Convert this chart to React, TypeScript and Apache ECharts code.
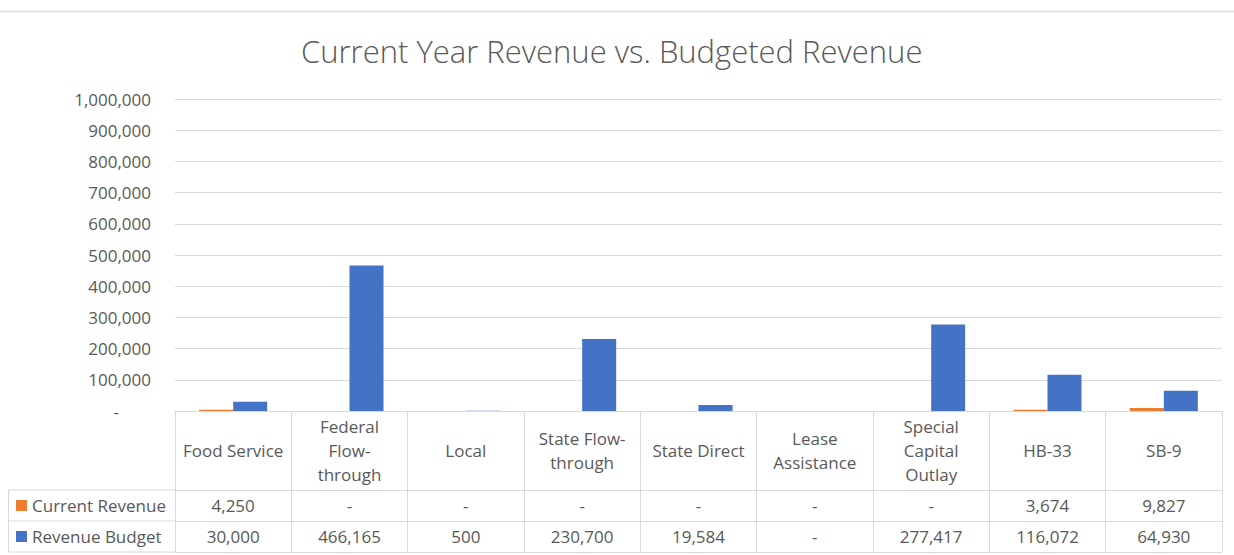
import React, { useEffect, useRef } from "react";
import * as echarts from "echarts";

const categories = [
  "Food Service",
  "Federal\nFlow-\nthrough",
  "Local",
  "State Flow-\nthrough",
  "State Direct",
  "Lease\nAssistance",
  "Special\nCapital\nOutlay",
  "HB-33",
  "SB-9",
];
const currentRevenue = [4250, 0, 0, 0, 0, 0, 0, 3674, 9827];
const revenueBudget = [30000, 466165, 500, 230700, 19584, 0, 277417, 116072, 64930];
const seriesNames = ["Current Revenue", "Revenue Budget"];

const FONT = "'Open Sans', 'Noto Sans', sans-serif";
const TEXT = "#595959";
const LINE = "#d9d9d9";
const ORANGE = "#ED7D31";
const BLUE = "#4472C4";

const fmt = (v: number) => (v === 0 ? "-" : v.toLocaleString("en-US"));

export default function App() {
  const ref = useRef<HTMLDivElement>(null);
  useEffect(() => {
    if (!ref.current) return;
    const chart = echarts.init(ref.current, undefined, { renderer: "svg" });
    const gridLeft = 175;
    const gridRight = 12;
    const gridTop = 99;
    const gridBottom = 144;
    const axisY = 555 - gridBottom;
    const headerH = 79;
    const rowH = 31;
    const rowAxis = (data: string[], offset: number, height: number) => ({
      type: "category",
      data,
      position: "bottom",
      offset,
      gridIndex: 0,
      axisLine: { show: true, lineStyle: { color: LINE, width: 1 } },
      axisTick: { show: true, interval: 0, length: height, lineStyle: { color: LINE, width: 1 } },
      axisLabel: {
        show: true,
        interval: 0,
        margin: height / 2,
        verticalAlign: "middle",
        color: TEXT,
        fontFamily: FONT,
        fontSize: 17,
        lineHeight: 24,
      },
      splitLine: { show: false },
    });
    const legendFor = (name: string, top: number) => ({
      orient: "horizontal",
      left: 16,
      top,
      padding: 0,
      itemWidth: 11,
      itemHeight: 11,
      icon: "rect",
      textStyle: { fontFamily: FONT, fontSize: 17, color: TEXT, lineHeight: 19 },
      data: [name],
    });
    chart.setOption({
      animation: false,
      backgroundColor: "#ffffff",
      title: {
        text: "Current Year Revenue vs. Budgeted Revenue",
        left: 296,
        top: 30,
        textStyle: { fontFamily: FONT, fontSize: 31, fontWeight: 300, color: TEXT },
      },
      legend: [
        legendFor(seriesNames[0], axisY + headerH + 6),
        legendFor(seriesNames[1], axisY + headerH + rowH + 6),
      ],
      grid: { left: gridLeft, right: gridRight, top: gridTop, bottom: gridBottom, containLabel: false },
      xAxis: [
        rowAxis(categories, 0, headerH),
        rowAxis(currentRevenue.map(fmt), headerH, rowH),
        rowAxis(revenueBudget.map(fmt), headerH + rowH, rowH),
        {
          type: "category",
          data: categories,
          position: "bottom",
          offset: headerH + rowH * 2,
          axisLine: { show: true, lineStyle: { color: LINE, width: 1 } },
          axisTick: { show: false },
          axisLabel: { show: false },
        },
      ],
      yAxis: {
        type: "value",
        min: 0,
        max: 1000000,
        interval: 100000,
        axisLine: { show: false },
        axisTick: { show: false },
        splitLine: { show: true, lineStyle: { color: LINE, width: 1 } },
        axisLabel: {
          margin: 24,
          color: TEXT,
          fontFamily: FONT,
          fontSize: 17,
          formatter: (v: number) => (v === 0 ? "{z|-}" : fmt(v)),
          rich: { z: { padding: [0, 32, 0, 0], color: TEXT, fontFamily: FONT, fontSize: 17 } },
        },
      },
      series: [
        {
          name: seriesNames[0],
          type: "bar",
          data: currentRevenue,
          itemStyle: { color: ORANGE },
          barWidth: 34,
          barGap: "0%",
        },
        {
          name: seriesNames[1],
          type: "bar",
          data: revenueBudget,
          itemStyle: { color: BLUE },
          barWidth: 34,
          barGap: "0%",
        },
      ],
      graphic: [
        { type: "line", shape: { x1: 0, y1: 11.5, x2: 1234, y2: 11.5 }, style: { stroke: LINE, lineWidth: 1.5 } },
        { type: "line", shape: { x1: 8.5, y1: axisY + headerH, x2: 8.5, y2: axisY + headerH + 2 * rowH }, style: { stroke: LINE, lineWidth: 1 } },
        { type: "line", shape: { x1: 8.5, y1: axisY + headerH, x2: gridLeft, y2: axisY + headerH }, style: { stroke: LINE, lineWidth: 1 } },
        { type: "line", shape: { x1: 8.5, y1: axisY + headerH + rowH, x2: gridLeft, y2: axisY + headerH + rowH }, style: { stroke: LINE, lineWidth: 1 } },
        { type: "line", shape: { x1: 8.5, y1: axisY + headerH + 2 * rowH, x2: gridLeft, y2: axisY + headerH + 2 * rowH }, style: { stroke: LINE, lineWidth: 1 } },
      ],
    });
    return () => chart.dispose();
  }, []);
  return (
    <div
      ref={ref}
      style={{ position: "absolute", left: 0, top: 0, width: 1234, height: 555, background: "#fff" }}
    />
  );
}
